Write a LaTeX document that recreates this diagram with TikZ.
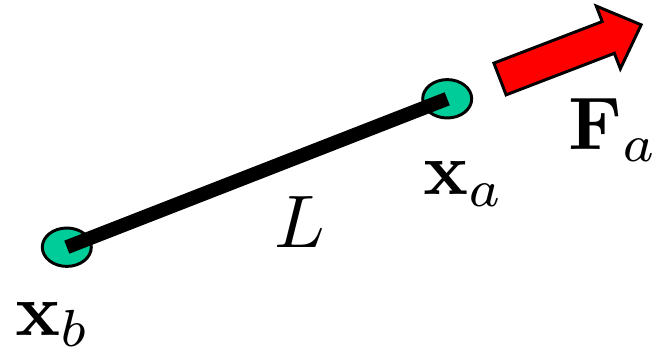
\documentclass[tikz,border=0pt]{standalone}
\usepackage{graphicx}
\usepackage{tikz}
\usetikzlibrary{shapes.geometric}
\definecolor{massgreen}{RGB}{0,204,153}
\tikzset{
	mass/.style={ellipse, draw=black, fill=massgreen, line width=2.1pt,
		minimum width=1.225cm, minimum height=0.96cm, inner sep=0pt}
}
\tikzset{
	bigtext/.style={inner sep=0pt}
}
\newcommand{\bigmath}[1]{\scalebox{5.3}{$#1$}}

\begin{document}
\begin{tikzpicture}
      \useasboundingbox (0,0) rectangle (16.35,8.9);
      \node[mass] (xb) at (1.67,2.72) {};
      \node[mass] (xa) at (11.18,6.43) {};
      \draw[line width=0.35cm] (xb.center) -- (xa.center);
      \node[bigtext, anchor=base west] (lb) at (0.375,0.52) {\bigmath{\mathbf{x}_b}};
      \node[bigtext, anchor=base west] (la) at (10.575,4.025) {\bigmath{\mathbf{x}_a}};
      \node[bigtext, anchor=base] (len) at (7.5,2.7) {\bigmath{L}};
      \node[bigtext, anchor=base west] (lf) at (14.2,5.15) {\bigmath{\mathbf{F}_a}};
      \begin{scope}[shift={(12.5,6.925)}, rotate=21]
        \draw[fill=red, line width=2.1pt, line join=miter]
          (0,-0.425) -- (2.9,-0.425) -- (2.9,-0.84) -- (3.78,0)
          -- (2.9,0.84) -- (2.9,0.425) -- (0,0.425) -- cycle;
      \end{scope}
    \end{tikzpicture}
\end{document}
